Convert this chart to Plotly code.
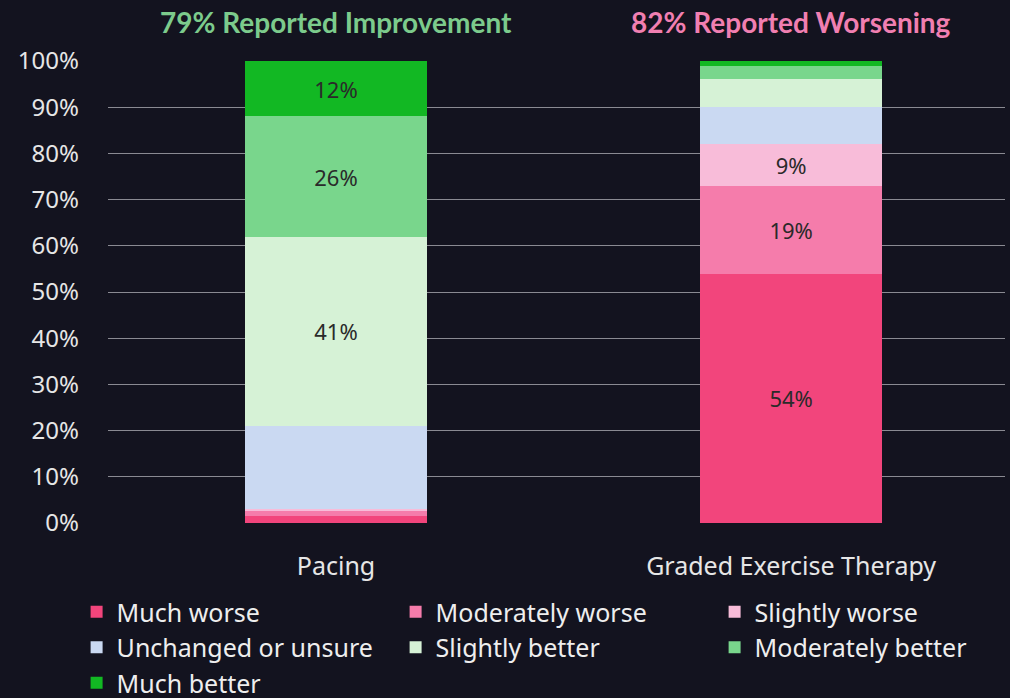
import plotly.graph_objects as go

categories = ["Pacing", "Graded Exercise Therapy"]
series_names = ["Much worse", "Moderately worse", "Slightly worse",
                "Unchanged or unsure", "Slightly better", "Moderately better", "Much better"]
much_worse = [1.5, 54]
moderately_worse = [1, 19]
slightly_worse = [0.5, 9]
unchanged = [18, 8]
slightly_better = [41, 6]
moderately_better = [26, 3]
much_better = [12, 1]
labels_shown = {
    "Much worse": ["", "54%"],
    "Moderately worse": ["", "19%"],
    "Slightly worse": ["", "9%"],
    "Unchanged or unsure": ["", ""],
    "Slightly better": ["41%", ""],
    "Moderately better": ["26%", ""],
    "Much better": ["12%", ""],
}
colors = ["#f2457c", "#f57cab", "#f8bcd9", "#cad9f2", "#d6f2d6", "#79d68c", "#12b823"]
values = [much_worse, moderately_worse, slightly_worse, unchanged,
          slightly_better, moderately_better, much_better]
yticks = list(range(0, 101, 10))
ytick_labels = [f"{v}%" for v in yticks]

BG = "#13131f"
fig = go.Figure()
for name, vals, col in zip(series_names, values, colors):
    fig.add_trace(go.Bar(
        name=name, x=categories, y=vals, marker=dict(color=col, line=dict(width=0)),
        width=0.4, text=labels_shown[name], textposition="inside",
        insidetextanchor="middle", textangle=0,
        textfont=dict(color="#2a2a2a", size=22, family="Noto Sans"),
        hoverinfo="skip",
    ))

fig.add_annotation(x=0, y=1.0, xref="x", yref="paper", yshift=39, yanchor="middle",
                   text="<b>79% Reported Improvement</b>", showarrow=False,
                   font=dict(color="#7ccb8c", size=28, family="Lato"))
fig.add_annotation(x=1, y=1.0, xref="x", yref="paper", yshift=39, yanchor="middle",
                   text="<b>82% Reported Worsening</b>", showarrow=False,
                   font=dict(color="#f17fb1", size=28, family="Lato"))

fig.update_layout(
    barmode="stack",
    width=1010, height=698,
    paper_bgcolor=BG, plot_bgcolor=BG,
    margin=dict(l=108, r=5, t=61, b=175, autoexpand=False),
    font=dict(family="Noto Sans", color="#e6e6e6", size=22),
    showlegend=True,
    legend=dict(orientation="h", xref="paper", yref="paper",
                x=-0.035, y=-0.143, xanchor="left", yanchor="top",
                entrywidth=274, entrywidthmode="pixels",
                font=dict(size=25, color="#eeeeee"), traceorder="normal",
                itemwidth=30, tracegroupgap=0, bgcolor="rgba(0,0,0,0)"),
    xaxis=dict(range=[-0.501, 1.47], showgrid=False, zeroline=False,
               showline=False, ticks="", ticklabelstandoff=26,
               tickfont=dict(size=25, color="#e6e6e6")),
    yaxis=dict(range=[0, 100], tickvals=yticks, ticktext=ytick_labels,
               showgrid=True, gridcolor="#8a8a92", gridwidth=1,
               zeroline=False, showline=False, ticklabelstandoff=28,
               tickfont=dict(size=24, color="#e6e6e6")),
)

fig.write_html("out.html", config={"displayModeBar": False},
               post_script="document.body.style.margin='0';document.body.style.background='" + BG + "';")
